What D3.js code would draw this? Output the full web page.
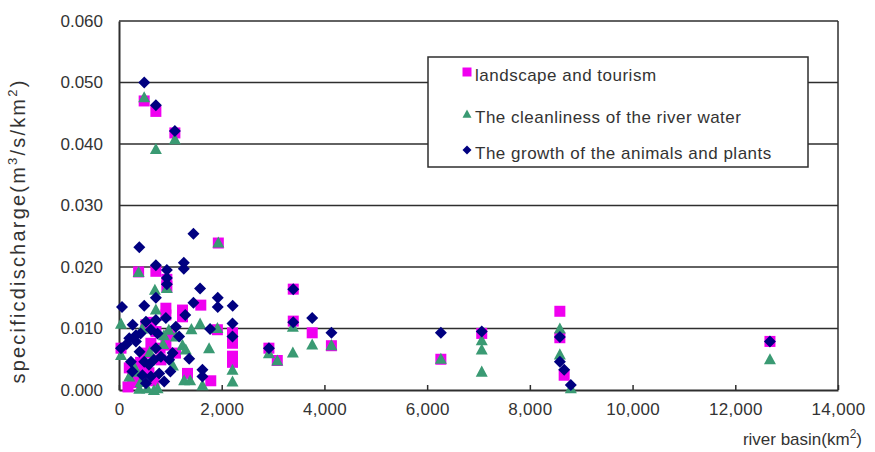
<!DOCTYPE html>
<html><head><meta charset="utf-8">
<script src="https://cdn.jsdelivr.net/npm/d3@7"></script>
<style>body{margin:0;background:#fff}svg{display:block}text{font-family:"Liberation Sans",Arial,sans-serif;fill:#333}</style>
</head><body>
<script>
const seriesNames = ["landscape and tourism","The cleanliness of the river water","The growth of the animals and plants"];
const xTicks = [0,2000,4000,6000,8000,10000,12000,14000];
const yTicks = [0,0.01,0.02,0.03,0.04,0.05,0.06];
const landscape = [[490,0.0470],[718,0.0453],[1088,0.0418],
[1934,0.0239],[382,0.0192],[718,0.0193],[932,0.0180],[932,0.0168],
[913,0.0133],[913,0.0122],[1237,0.0130],[1237,0.0119],[1593,0.0138],
[1916,0.0098],[2210,0.0093],[2210,0.0076],[2210,0.0055],[2210,0.0045],
[39,0.0068],[175,0.0005],[200,0.0036],[266,0.0020],[330,0.0012],[420,0.0045],[524,0.0060],[621,0.0076],[913,0.0073],[720,0.0095],[800,0.0068],[816,0.0049],[583,0.0028],[480,0.0033],[680,0.0015],[1334,0.0027],[1787,0.0015],[524,0.0106],[1000,0.0090],[1100,0.0060],[620,0.0110],
[2919,0.0068],[3082,0.0048],[3393,0.0164],[3393,0.0112],[3762,0.0093],[4136,0.0072],[6267,0.0050],[7063,0.0092],[8584,0.0128],[8584,0.0085],[8668,0.0024],[12675,0.0079]];
const cleanliness = [[490,0.0476],[1088,0.0408],[718,0.0392],
[1934,0.0240],[382,0.0192],[932,0.0166],[699,0.0163],[718,0.0131],
[39,0.0108],[39,0.0057],[874,0.0089],[970,0.0098],[1107,0.0087],[1237,0.0073],[1300,0.0066],[1410,0.0099],[1579,0.0108],[1754,0.0068],[1916,0.0101],[2210,0.0033],[2210,0.0014],[1268,0.0016],[1385,0.0016],[1625,0.0008],[297,0.0038],[200,0.0022],[330,0.0030],[395,0.0002],[550,0.0003],[680,0.0000],[751,0.0003],[420,0.0013],[600,0.0062],[860,0.0075],[450,0.0100],[1050,0.0040],
[2919,0.0060],[3082,0.0048],[3385,0.0103],[3385,0.0061],[3762,0.0074],[4136,0.0073],[6267,0.0051],[7063,0.0081],[7063,0.0066],[7063,0.0030],[8584,0.0100],[8584,0.0058],[8798,0.0003],[12675,0.0050]];
const growth = [[492,0.0500],[718,0.0463],[1088,0.0421],
[395,0.0232],[1450,0.0254],[718,0.0203],[1262,0.0207],[1262,0.0197],[932,0.0195],[932,0.0182],[932,0.0172],[1579,0.0165],[718,0.0150],[1923,0.0150],[1923,0.0135],[2214,0.0137],[58,0.0135],[492,0.0137],[1450,0.0142],[913,0.0117],[1290,0.0122],
[266,0.0106],[524,0.0111],[718,0.0114],[621,0.0098],[330,0.0089],[330,0.0079],[200,0.0084],[751,0.0092],[39,0.0068],[718,0.0068],[816,0.0054],[680,0.0049],[583,0.0041],[621,0.0022],[524,0.0011],[880,0.0014],[783,0.0027],[456,0.0024],[1773,0.0099],[1625,0.0033],[1625,0.0022],[1367,0.0051],[2210,0.0108],[2210,0.0087],[1107,0.0103],[1171,0.0087],[1043,0.0060],[977,0.0049],[233,0.0046],[260,0.0030],[492,0.0046],[400,0.0062],[150,0.0075],[420,0.0092],[1000,0.0030],
[2919,0.0068],[3393,0.0164],[3393,0.0110],[3762,0.0117],[4136,0.0093],[6267,0.0093],[7063,0.0095],[8584,0.0086],[8584,0.0046],[8668,0.0033],[8798,0.0008],[12675,0.0079]];

const W=875,H=452;
const svg=d3.select("body").append("svg").attr("width",W).attr("height",H);
const x=d3.scaleLinear().domain([0,14000]).range([119,838]);
const y=d3.scaleLinear().domain([0,0.06]).range([390,21]);
const lineCol="#2e2e2e";
const FONT="Liberation Sans, Arial, sans-serif";

// gridlines
svg.append("g").selectAll("line").data(yTicks.slice(1)).join("line")
  .attr("x1",x(0)).attr("x2",x(14000)).attr("y1",d=>y(d)).attr("y2",d=>y(d))
  .attr("stroke",lineCol).attr("stroke-width",1.5);
// right border
svg.append("line").attr("x1",x(14000)).attr("x2",x(14000)).attr("y1",y(0.06)).attr("y2",y(0))
  .attr("stroke",lineCol).attr("stroke-width",1.5);

// x axis
const xAxis=d3.axisBottom(x).tickValues(xTicks).tickSizeInner(-5).tickSizeOuter(0).tickFormat(d3.format(","));
const gx=svg.append("g").attr("transform",`translate(0,${y(0)})`).call(xAxis);
gx.select(".domain").attr("stroke",lineCol).attr("stroke-width",2);
gx.selectAll(".tick line").attr("stroke",lineCol).attr("stroke-width",1.5);
gx.selectAll(".tick text").attr("font-size",17).attr("dy","0.3em").attr("y",20)
  .style("font-family",FONT).style("letter-spacing","0.3px").attr("fill","#333");

// y axis
const yAxis=d3.axisLeft(y).tickValues(yTicks).tickSize(0).tickPadding(16).tickFormat(d3.format(".3f"));
const gy=svg.append("g").attr("transform",`translate(${x(0)},0)`).call(yAxis);
gy.select(".domain").attr("stroke",lineCol).attr("stroke-width",2);
gy.selectAll(".tick text").attr("font-size",17).style("font-family",FONT).attr("fill","#333");

// axis titles
const xt=svg.append("text").attr("x",862).attr("y",445).attr("text-anchor","end").attr("font-size",17);
xt.append("tspan").text("river basin(km");
xt.append("tspan").attr("font-size",12).attr("dy",-7).text("2");
xt.append("tspan").attr("dy",7).text(")");

const yt=svg.append("text").attr("transform","translate(25,231) rotate(-90)").attr("text-anchor","middle")
  .attr("font-size",20).style("letter-spacing","2.2px");
yt.append("tspan").text("specificdischarge(m");
yt.append("tspan").attr("font-size",13).attr("dy",-8).text("3");
yt.append("tspan").attr("dy",8).text("/s/km");
yt.append("tspan").attr("font-size",13).attr("dy",-8).text("2");
yt.append("tspan").attr("dy",8).text(")");

// markers
const colors=["#f000f0","#3a9a73","#000080"];
const shapes=[
  s=>`M${-s},${-s}H${s}V${s}H${-s}Z`,
  s=>`M0,${-s}L${s},${s*0.85}L${-s},${s*0.85}Z`,
  s=>`M0,${-s}L${s},0L0,${s}L${-s},0Z`
];
const sizes=[5.5,6,6];
const allSeries=[landscape,cleanliness,growth];
allSeries.forEach((data,i)=>{
  svg.append("g").selectAll("path").data(data).join("path")
    .attr("transform",d=>`translate(${x(d[0])},${y(d[1])})`)
    .attr("d",shapes[i](sizes[i])).attr("fill",colors[i]);
});

// legend
const lg=svg.append("g");
lg.append("rect").attr("x",428).attr("y",57).attr("width",380).attr("height",110)
  .attr("fill","#fff").attr("stroke",lineCol).attr("stroke-width",1.5);
const ly=[75,117,153];
seriesNames.forEach((n,i)=>{
  lg.append("path").attr("transform",`translate(467,${ly[i]-3})`).attr("d",shapes[i](4.5)).attr("fill",colors[i]);
  lg.append("text").attr("x",475).attr("y",ly[i]).attr("dy","0.35em").attr("font-size",17)
    .style("letter-spacing","0.5px").text(n);
});
</script>
</body></html>
